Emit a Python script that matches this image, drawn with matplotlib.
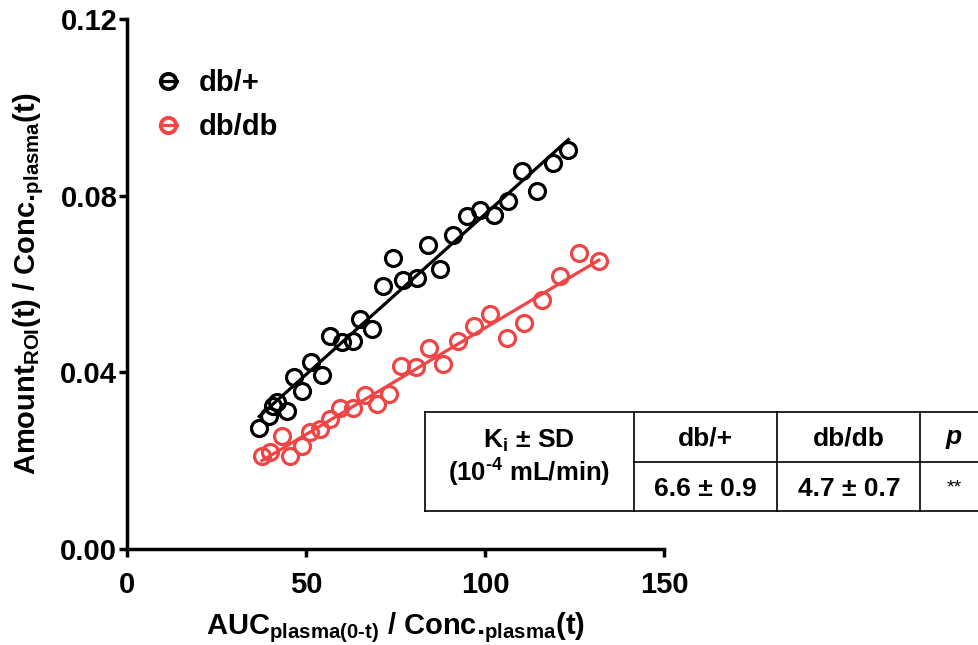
import numpy as np
import matplotlib
matplotlib.use("Agg")
import matplotlib.pyplot as plt
from matplotlib.lines import Line2D

plt.rcParams['font.family'] = ['Liberation Sans', 'DejaVu Sans']
plt.rcParams['font.weight'] = 'bold'
plt.rcParams['axes.labelweight'] = 'bold'
plt.rcParams['mathtext.fontset'] = 'custom'
plt.rcParams['mathtext.rm'] = 'Liberation Sans:bold'
plt.rcParams['mathtext.bf'] = 'Liberation Sans:bold'
plt.rcParams['mathtext.it'] = 'Liberation Sans:italic:bold'

# db/+ (black)
x_het = [36.95, 39.75, 40.8, 41.9, 44.6, 46.6, 48.8, 51.3, 54.4, 56.7, 60.0, 63.2,
         65.1, 68.4, 71.4, 74.2, 77.2, 80.9, 84.2, 87.4, 91.0, 94.9, 98.6, 102.5,
         106.5, 110.3, 114.4, 119.1, 123.3]
y_het = [0.0275, 0.0301, 0.0323, 0.0332, 0.0313, 0.0389, 0.0358, 0.0423, 0.0395, 0.0482,
         0.0468, 0.0471, 0.0520, 0.0497, 0.0595, 0.0659, 0.0610, 0.0614, 0.0689, 0.0633,
         0.0712, 0.0753, 0.0768, 0.0757, 0.0787, 0.0855, 0.0810, 0.0874, 0.0904]

# db/db (red)
x_db = [37.7, 39.9, 43.2, 45.5, 48.8, 51.1, 53.9, 56.7, 59.5, 63.2, 66.5, 69.7, 73.2,
        76.5, 80.7, 84.4, 88.4, 92.5, 96.9, 101.4, 106.1, 110.9, 115.8, 120.9, 126.3, 131.8]
y_db = [0.0211, 0.0219, 0.0256, 0.0211, 0.0233, 0.0264, 0.0271, 0.0294, 0.0320, 0.0319,
        0.0348, 0.0328, 0.0350, 0.0414, 0.0411, 0.0456, 0.0418, 0.0470, 0.0504, 0.0533,
        0.0477, 0.0511, 0.0563, 0.0617, 0.0671, 0.0651]

labels = ['db/+', 'db/db']
colors = ['black', '#F04545']

tbl_head = ['db/+', 'db/db', '$\\it{p}$']
tbl_vals = ['6.6 ± 0.9', '4.7 ± 0.7', '**']

fig = plt.figure(figsize=(9.79, 6.45), dpi=100)
ax = fig.add_axes([127/979, 1-549/645, (664-127)/979, (549-19)/645])

handles = []
for xs, ys, c, lab in zip([x_het, x_db], [y_het, y_db], colors, labels):
    xs = np.array(xs); ys = np.array(ys)
    ax.plot(xs, ys, 'o', mfc='none', mec=c, mew=2.3, ms=11.5, zorder=3)
    k, b = np.polyfit(xs, ys, 1)
    xf = np.array([xs.min(), xs.max()])
    ax.plot(xf, k*xf + b, '-', color=c, lw=2.3, zorder=2)
    handles.append(Line2D([], [], color=c, lw=2.3, marker='o', mfc='none', mec=c,
                          mew=2.8, ms=11, label=lab))

ax.legend(handles=handles, loc='upper left', bbox_to_anchor=(0.012, 0.955), frameon=False,
          handlelength=0.6, handletextpad=0.75, fontsize=21, labelspacing=0.55)

ax.set_xlim(0, 150)
ax.set_ylim(0, 0.12)
ax.set_xticks([0, 50, 100, 150])
ax.set_yticks([0.0, 0.04, 0.08, 0.12])
ax.set_yticklabels(['0.00', '0.04', '0.08', '0.12'])
for s in ['top', 'right']:
    ax.spines[s].set_visible(False)
for s in ['left', 'bottom']:
    ax.spines[s].set_linewidth(2.5)
ax.tick_params(width=2.5, length=6, labelsize=21)
ax.tick_params(axis='x', pad=10)
ax.tick_params(axis='y', pad=1)
ax.set_xlabel('AUC$_{\\mathrm{plasma(0\\text{-}t)}}$ / Conc.$_{\\mathrm{plasma}}$(t)', fontsize=21, labelpad=8)
ax.set_ylabel('Amount$_{\\mathrm{ROI}}$(t) / Conc.$_{\\mathrm{plasma}}$(t)', fontsize=21, labelpad=10)

# table drawn in pixel-like coordinates of an overlay axes
tax = fig.add_axes([424/979, 1-512/645, (995-424)/979, (512-411)/645])
tax.set_xlim(424, 995)
tax.set_ylim(512, 411)
tax.axis('off')
lk = dict(color='black', lw=1.2, clip_on=False)
tax.plot([425, 995], [412, 412], **lk)
tax.plot([425, 995], [511, 511], **lk)
tax.plot([425, 425], [412, 511], **lk)
tax.plot([634, 995], [462, 462], **lk)
for cx in [634, 777, 920]:
    tax.plot([cx, cx], [412, 511], **lk)
tax.text(529, 441, 'K$_{\\mathrm{i}}$ ± SD', ha='center', va='center', fontsize=19)
tax.text(529, 473, '(10$^{\\mathrm{\\text{-}4}}$ mL/min)', ha='center', va='center', fontsize=18.5)
for cx, h, v in zip([705, 849, 954], tbl_head, tbl_vals):
    tax.text(cx, 439, h, ha='center', va='center', fontsize=19)
    if v == '**':
        tax.text(cx, 488, v, ha='center', va='center', fontsize=14, fontweight='normal')
    else:
        tax.text(cx, 489, v, ha='center', va='center', fontsize=19)

fig.savefig('out.png', dpi=100)
